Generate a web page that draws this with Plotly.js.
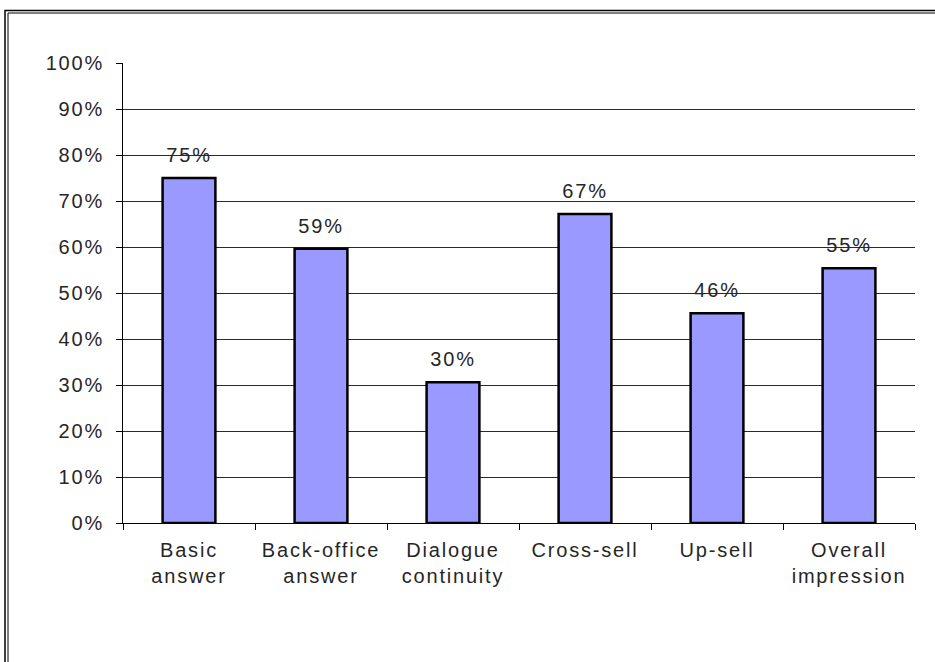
<!DOCTYPE html>
<html><head><meta charset="utf-8">
<script src="https://cdn.plot.ly/plotly-3.0.1.min.js"></script>
<style>
html,body{margin:0;padding:0;background:#fff;}
#chart{width:935px;height:662px;}
#chart text{letter-spacing:1.8px;}
</style>
</head><body><div id="chart"></div>
<script>
const categories = ["Basic<br>answer", "Back-office<br>answer", "Dialogue<br>continuity", "Cross-sell", "Up-sell", "Overall<br>impression"];
const values = [0.75, 0.596, 0.306, 0.672, 0.456, 0.554];
const valueLabels = ["75%", "59%", "30%", "67%", "46%", "55%"];
const yTickVals = [0, 0.1, 0.2, 0.3, 0.4, 0.5, 0.6, 0.7, 0.8, 0.9, 1.0];
const yTickText = ["0%", "10%", "20%", "30%", "40%", "50%", "60%", "70%", "80%", "90%", "100%"];

const W = 935, H = 662, L = 123, R = 20, T = 63, B = 139;
const pw = W - L - R, ph = H - T - B;
const px = x => (x - L) / pw;
const py = y => (H - B - y) / ph;

const font = {family: "Liberation Sans, Arial, sans-serif", size: 20, color: "#262626"};

const trace = {
  type: "bar", x: categories, y: values,
  marker: {color: "#9999FF", line: {color: "#000", width: 2.5}},
  hoverinfo: "none"
};

const annotations = categories.map((c, i) => ({
  x: c, y: values[i], xref: "x", yref: "y", text: valueLabels[i],
  showarrow: false, yanchor: "bottom", yshift: 10, font: font
}));

const shapes = [
  {type: "rect", xref: "paper", yref: "paper", x0: px(5), x1: px(1200), y0: py(10.5), y1: py(1200), line: {color: "#000", width: 1.5}},
  {type: "rect", xref: "paper", yref: "paper", x0: px(8), x1: px(1200), y0: py(13), y1: py(1200), line: {color: "#000", width: 1}}
];

const layout = {
  width: W, height: H,
  margin: {l: L, r: R, t: T, b: B, pad: 0},
  paper_bgcolor: "#fff", plot_bgcolor: "#fff",
  showlegend: false, bargap: 0.6,
  font: font,
  xaxis: {
    type: "category", tickson: "boundaries", ticks: "outside", ticklen: 6, tickcolor: "#000",
    showline: true, linecolor: "#000", linewidth: 1, showgrid: false,
    tickfont: font, ticklabelstandoff: 9, fixedrange: true
  },
  yaxis: {
    range: [0, 1], tickvals: yTickVals, ticktext: yTickText,
    ticks: "outside", ticklen: 6, tickcolor: "#000",
    showline: true, linecolor: "#000", linewidth: 1,
    showgrid: true, gridcolor: "#2a2a2a", gridwidth: 1,
    zeroline: false, tickfont: font, ticklabelstandoff: 8, fixedrange: true
  },
  annotations: annotations,
  shapes: shapes
};

Plotly.newPlot("chart", [trace], layout, {displayModeBar: false, staticPlot: true});
</script></body></html>
